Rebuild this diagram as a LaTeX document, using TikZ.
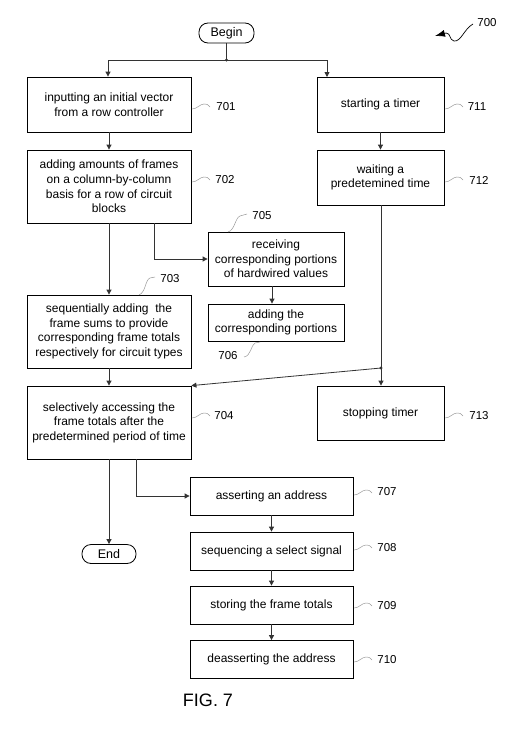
\documentclass[tikz,border=0pt]{standalone}
\usepackage{fontspec}
\setmainfont{Liberation Sans}
\usetikzlibrary{arrows.meta,calc}
\tikzset{
  box/.style={draw, line width=0.8pt, align=center, inner sep=1pt, font=\fontsize{12}{14.6}\selectfont},
  term/.style={draw, line width=0.8pt, rounded corners=9pt, align=center, inner sep=1pt, font=\fontsize{12.5}{14}\selectfont},
  lbl/.style={font=\fontsize{11.5}{13}\selectfont, inner sep=0pt},
  conn/.style={draw=black!80, line width=0.8pt},
  arr/.style={conn, -{Triangle[length=5pt,width=5pt]}},
  sq/.style={draw=black!40, line width=0.5pt},
  sqh/.pic={\draw[sq] (0,1) .. controls (5,1) and (8,-4) .. (12,-4) .. controls (15,-4) .. (18,-1);},
}
\begin{document}
\begin{tikzpicture}[x=1pt,y=-1pt]
\useasboundingbox (0,0) rectangle (522,739);
% terminals
\node[term, minimum width=55pt, minimum height=20pt] (begin) at (226.5,33) {Begin};
\node[term, minimum width=54pt, minimum height=19pt] (end) at (109,554) {End};
% left column
\node[box, minimum width=164pt, minimum height=55pt] (b701) at (109,104.5) {inputting an initial vector\\from a row controller};
\node[box, minimum width=164pt, minimum height=73pt] (b702) at (109,186.5) {adding amounts of frames\\on a column-by-column\\basis for a row of circuit\\blocks};
\node[box, minimum width=164pt, minimum height=73pt] (b703) at (109,331.5) {sequentially adding\ \ the\\frame sums to provide\\corresponding frame totals\\respectively for circuit types};
\node[box, minimum width=164pt, minimum height=73pt] (b704) at (109,422.5) {selectively accessing the\\frame totals after the\\predetermined period of time};
% middle
\node[box, minimum width=136pt, minimum height=54pt] (b705) at (276,259) {receiving\\corresponding portions\\of hardwired values};
\node[box, minimum width=136pt, minimum height=37pt] (b706) at (276,322.5) {adding the\\corresponding portions};
\node[box, minimum width=163pt, minimum height=38pt] (b707) at (271.5,496) {asserting an address};
\node[box, minimum width=163pt, minimum height=38pt] (b708) at (271.5,551) {sequencing a select signal};
\node[box, minimum width=163pt, minimum height=38pt] (b709) at (271.5,605) {storing the frame totals};
\node[box, minimum width=163pt, minimum height=38pt] (b710) at (271.5,659.5) {deasserting the address};
% right column
\node[box, minimum width=127pt, minimum height=55pt] (b711) at (380.5,104.5) {starting a timer};
\node[box, minimum width=127pt, minimum height=55pt] (b712) at (380.5,177.5) {waiting a\\predetemined time};
\node[box, minimum width=127pt, minimum height=54pt] (b713) at (380.5,413) {stopping timer};
% labels
\node[lbl] (l701) at (226,107) {701};
\node[lbl] (l702) at (225,180) {702};
\node[lbl] (l703) at (170,279) {703};
\node[lbl] (l704) at (224,416) {704};
\node[lbl] (l705) at (262,216) {705};
\node[lbl] (l706) at (228,356) {706};
\node[lbl] (l707) at (387,492) {707};
\node[lbl] (l708) at (387,548) {708};
\node[lbl] (l709) at (387,606) {709};
\node[lbl] (l710) at (387,660) {710};
\node[lbl] (l711) at (477,107) {711};
\node[lbl] (l712) at (479,180) {712};
\node[lbl] (l713) at (479,416) {713};
\node[lbl] (l700) at (487,23) {700};
\node[font=\fontsize{18}{20}\selectfont, inner sep=0pt] (fig) at (208,700) {FIG. 7};
% squiggles
\pic at (192,108) {sqh};
\pic at (192,181) {sqh};
\pic at (192,417) {sqh};
\pic at (445,108) {sqh};
\pic at (445,181) {sqh};
\pic at (445,417) {sqh};
\pic at (354,494) {sqh};
\pic at (354,549) {sqh};
\pic at (354,607) {sqh};
\pic at (354,661) {sqh};
\draw[sq] (228,232) .. controls (235,230) and (235,218) .. (240,216) .. controls (243,215) .. (247,214);
\draw[sq] (139,295) .. controls (146,292) and (145,280) .. (150,278) .. controls (152,277) .. (155,277);
\draw[sq] (244,357) .. controls (251,356) and (251,345) .. (255,343) .. controls (257,342) .. (260,342);
\draw[-{Latex[length=10pt,width=7pt]}, draw=black, line width=0.7pt] (473,24) .. controls (464,29) and (461,42) .. (454,41) .. controls (449,40) and (451,33) .. (446,33) -- (435,36);
% connectors
\coordinate (j1) at (226.5,60);
\coordinate (t711) at (327,77);
\coordinate (s702) at (154,223);
\coordinate (j2) at (381,368);
\fill[black!80] (j1) circle (1.6pt);
\fill[black!80] (j2) circle (1.6pt);
\draw[conn] (begin) -- (j1);
\draw[arr] (j1) -| ([xshift=-1pt]b701.north);
\draw[arr] (j1) -| (t711);
\draw[arr] (b701) -- (b702);
\draw[arr] (b702) -- (b703);
\draw[arr] (b703) -- (b704);
\draw[arr] (s702) |- (b705.west);
\draw[arr] ([xshift=-4pt]b705.south) -- ([xshift=-4pt]b706.north);
\draw[arr] (b711) -- (b712);
\draw[conn] ([xshift=0.5pt]b712.south) -- (j2);
\draw[arr] (j2) -- (b713.north -| j2);
\draw[arr] (j2) -- (b704.north east);
\draw[arr] (b704.south) -- (end.north);
\draw[arr] ([xshift=27pt]b704.south) |- (b707.west);
\draw[arr] (b707) -- (b708);
\draw[arr] (b708) -- (b709);
\draw[arr] (b709) -- (b710);
\end{tikzpicture}
\end{document}
